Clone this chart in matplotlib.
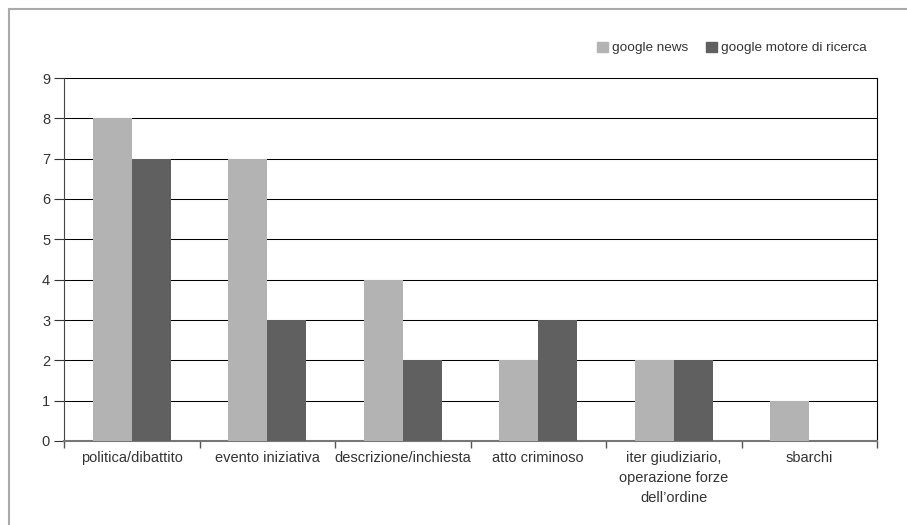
import numpy as np
import matplotlib
matplotlib.use("Agg")
from matplotlib import pyplot as plt
from matplotlib.lines import Line2D
from matplotlib.patches import Patch

plt.rcParams['font.family'] = ['Liberation Sans', 'DejaVu Sans']

categories = ['politica/dibattito', 'evento iniziativa', 'descrizione/inchiesta',
              'atto criminoso', 'iter giudiziario,\noperazione forze\ndell\u2019ordine', 'sbarchi']
google_news = [8, 7, 4, 2, 2, 1]
google_motore = [7, 3, 2, 3, 2, 0]
series_names = ['google news', 'google motore di ricerca']

fig = plt.figure(figsize=(9.07, 5.25), dpi=100)
ax = fig.add_axes([64 / 907, 1 - 441 / 525, (877 - 64) / 907, (441 - 78) / 525])

x = np.arange(len(categories))
w = 0.288
ax.bar(x - w / 2, google_news, width=w, color='#b3b3b3', zorder=3)
ax.bar(x + w / 2, google_motore, width=w, color='#606060', zorder=3)

ax.set_xlim(-0.5, len(categories) - 0.5)
ax.set_ylim(0, 9)
ax.set_yticks(range(10))
ax.yaxis.grid(True, color='black', linewidth=0.75, zorder=0)

# category labels between boundary ticks
ax.set_xticks(np.arange(len(categories) + 1) - 0.5)
ax.set_xticklabels([])
ax.set_xticks(x, minor=True)
ax.set_xticklabels(categories, minor=True, fontsize=10.5, color='#333333', linespacing=1.55)
ax.tick_params(axis='x', which='minor', length=0, pad=7)
ax.tick_params(axis='x', which='major', length=5, color='#555555', width=1)
ax.tick_params(axis='y', length=7, color='#333333', labelsize=10.5, labelcolor='#333333', pad=3)

ax.spines['top'].set_visible(False)
ax.spines['left'].set_color('#444444')
ax.spines['right'].set_color('black')
ax.spines['bottom'].set_color('#777777')
ax.spines['bottom'].set_linewidth(1.5)

handles = [Patch(color='#b3b3b3'), Patch(color='#606060')]
fig.legend(handles, series_names, loc='center left', bbox_to_anchor=(592 / 907, 1 - 48 / 525),
           ncol=2, frameon=False, fontsize=9.7, handlelength=0.8, handleheight=0.8,
           handletextpad=0.3, columnspacing=1.3, borderaxespad=0, labelcolor='#333333')

# outer frame (left and top only)
fig.add_artist(Line2D([8.5 / 907, 8.5 / 907], [0, 1 - 9 / 525], color='#aaaaaa', linewidth=1.5))
fig.add_artist(Line2D([8.5 / 907, 1], [1 - 9 / 525, 1 - 9 / 525], color='#aaaaaa', linewidth=1.5))

fig.savefig('out.png', dpi=100)
